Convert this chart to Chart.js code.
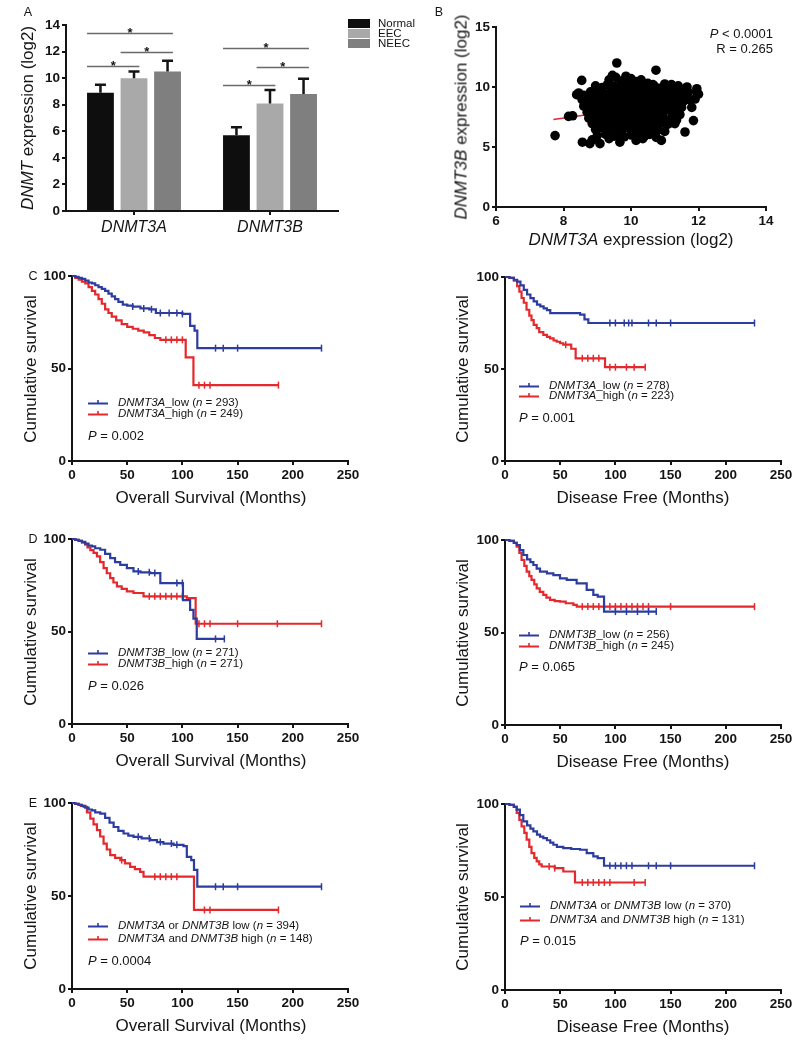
<!DOCTYPE html>
<html>
<head>
<meta charset="utf-8">
<script src="https://cdn.jsdelivr.net/npm/chart.js@4.4.1/dist/chart.umd.min.js"></script>
<style>
  body { margin:0; width:800px; height:1040px; position:relative; overflow:hidden; background:#fff;
         font-family:"Liberation Sans", Arial, Helvetica, sans-serif; color:#141414; }
  canvas { position:absolute; }
  .t { position:absolute; white-space:nowrap; line-height:1; }
  .sw { position:absolute; }
</style>
</head>
<body>
<script>
// ---------- panel A: mean expression (log2) ----------
const genes = ["DNMT3A", "DNMT3B"];
const groups = ["Normal", "EEC", "NEEC"];
const normalMean = [8.9, 5.7];
const eecMean = [10.0, 8.1];
const neecMean = [10.5, 8.8];
const normalSd = [0.6, 0.6];
const eecSd = [0.5, 1.0];
const neecSd = [0.8, 1.15];
// significance brackets: gene index, bar from, bar to, height
const sigGene = [0, 0, 0, 1, 1, 1];
const sigFrom = [0, 1, 0, 0, 1, 0];
const sigTo = [2, 2, 1, 2, 2, 1];
const sigY = [13.4, 12.0, 10.9, 12.3, 10.85, 9.5];

// ---------- panel B: DNMT3A vs DNMT3B ----------
const scatterPts = [
  [9.35,10.6],[9.55,10.8],[9.7,10.5],[9.85,10.9],[10.0,10.7],[10.15,10.45],[10.3,10.6],[10.5,10.3],[10.65,10.2],[11.0,10.25],[11.2,10.2],[11.4,10.1],
  [8.95,10.1],[9.15,9.95],[9.3,10.2],[9.5,10.05],[9.65,9.9],[9.8,10.25],[9.95,10.0],[10.1,10.15],[10.25,9.9],[10.4,10.1],[10.55,9.85],[10.7,10.05],[10.85,9.9],[11.0,9.8],[11.15,10.0],[11.3,9.9],[11.5,9.75],
  [8.45,9.5],[8.6,9.3],[8.8,9.6],[8.95,9.45],[9.1,9.55],[9.25,9.4],[9.4,9.6],[9.55,9.35],[9.7,9.5],[9.85,9.6],[10.0,9.4],[10.15,9.55],[10.3,9.35],[10.45,9.6],[10.6,9.45],[10.75,9.5],[10.9,9.35],[11.05,9.55],[11.2,9.4],[11.35,9.5],[11.55,9.3],[11.7,9.55],
  [8.55,8.95],[8.7,8.8],[8.85,9.05],[9.0,8.9],[9.15,9.1],[9.3,8.85],[9.45,9.0],[9.6,8.9],[9.75,9.1],[9.9,8.85],[10.05,9.05],[10.2,8.9],[10.35,9.1],[10.5,8.85],[10.65,9.0],[10.8,9.1],[10.95,8.9],[11.1,9.05],[11.25,8.85],[11.4,9.0],[11.55,8.8],
  [8.6,8.4],[8.75,8.55],[8.9,8.35],[9.05,8.6],[9.2,8.45],[9.35,8.55],[9.5,8.35],[9.65,8.5],[9.8,8.6],[9.95,8.4],[10.1,8.55],[10.25,8.35],[10.4,8.5],[10.55,8.6],[10.7,8.4],[10.85,8.55],[11.0,8.4],[11.15,8.6],[11.3,8.45],[11.5,8.3],
  [8.7,7.9],[8.85,8.1],[9.0,7.95],[9.15,8.05],[9.3,7.85],[9.45,8.1],[9.6,7.9],[9.75,8.0],[9.9,8.15],[10.05,7.9],[10.2,8.05],[10.35,7.85],[10.5,8.1],[10.65,7.95],[10.8,8.0],[10.95,7.85],[11.1,8.1],[11.3,7.9],[11.45,7.7],
  [8.75,7.4],[8.9,7.55],[9.05,7.35],[9.2,7.6],[9.35,7.45],[9.5,7.5],[9.65,7.35],[9.8,7.6],[9.95,7.4],[10.1,7.55],[10.25,7.3],[10.4,7.5],[10.55,7.6],[10.7,7.35],[10.85,7.5],[11.0,7.3],[11.2,7.45],[11.35,7.25],
  [8.85,6.95],[9.0,7.1],[9.15,6.85],[9.3,7.05],[9.45,6.9],[9.6,7.0],[9.75,6.85],[9.9,7.1],[10.05,6.95],[10.2,6.8],[10.35,7.05],[10.5,6.9],[10.65,7.0],[10.8,6.85],[10.95,7.05],[11.1,6.9],[11.3,6.95],
  [8.95,6.45],[9.15,6.6],[9.3,6.4],[9.45,6.55],[9.6,6.35],[9.75,6.5],[9.9,6.6],[10.05,6.4],[10.2,6.5],[10.35,6.3],[10.5,6.45],[10.65,6.55],[10.8,6.4],[11.0,6.3],
  [9.0,5.95],[9.25,6.05],[9.5,5.9],[9.65,6.1],[9.8,5.85],[10.0,6.0],[10.2,6.1],[10.4,5.9],[10.55,6.05],[10.75,5.8],
  [8.85,5.6],[9.35,5.7],[10.15,5.55],[10.35,5.7],
  [7.75,5.95],[8.15,7.55],[8.27,7.6],[8.54,10.55],[8.39,9.36],[9.58,12.0],[10.74,11.4],[9.45,10.97],[8.56,5.4],[8.78,5.28],[9.08,5.28],
  [9.67,5.4],[10.9,5.55],[11.6,6.25],[11.66,10.0],[11.95,9.86],[11.85,7.2],[11.75,8.9],[12.0,9.4],[11.9,9.0],[11.95,9.6],[11.8,8.3]
];
const regX = [7.7, 12.0];
const regY = [7.3, 9.0];

// ---------- panels C-E: Kaplan-Meier (months, % surviving) ----------
const cOsLowT = [0,3,6,9,12,15,18,21,24,27,30,33,36,39,42,46,50,55,62,70,76,100,107,111,113.5,226];
const cOsLowS = [100,99.5,99,98.5,97.5,96.5,96,95,94,93,92,90.5,89,87.5,86,84.5,84,83.5,82.5,82,80,79.5,73,70.5,61,61];
const cOsLowC = [55,65,72,80,88,95,100,130,137,150,226];
const cOsHighT = [0,3,6,9,12,15,18,21,24,27,30,33,36,40,45,50,55,60,65,70,75,80,103,110,187];
const cOsHighS = [100,99,98,97,96,94,92,90,87.5,85,82,80,78,76,74,72.5,71.5,70.5,69.5,68,66.5,65.5,56,41,41];
const cOsHighC = [85,90,95,100,115,120,125,187];

const cDfsLowT = [0,4,8,11,14,17,20,23,26,29,32,35,38,41,68,72,75.5,226];
const cDfsLowS = [100,99.5,98.5,97.5,95.5,93,90.5,88.5,86.8,85,84,83,82,80.4,79.5,77,75,75];
const cDfsLowC = [95,100,108,112,115,130,137,150,226];
const cDfsHighT = [0,4,8,11,13,15,17,19.5,22,24,26,28.7,31,34.7,38,40.8,44,46.8,50,52.8,60,64,90.6,127];
const cDfsHighS = [100,99.5,98,95,92,88.6,86,82.2,79,76.6,74,72.2,70,68.6,67.5,66.6,65.5,64.8,64,63.2,61,55.8,51,51];
const cDfsHighC = [55,70,75,80,85,95,100,110,117,127];

const dOsLowT = [0,3,6,9,12,15,18,21,25.6,30,34.6,39,43.7,49.7,55.7,62,70.8,80,100.5,107,110,113,138];
const dOsLowS = [100,99.5,99,98.5,97.5,96.5,96,95,94.2,92,89.7,87.5,86,84.3,82.5,82,81.6,76.2,67,61.7,57,46,46];
const dOsLowC = [60,70,75,95,100,130,138];
const dOsHighT = [0,3,6,9,12,14,16.6,19.5,22.6,25.5,28.6,31.5,34.6,37.5,40.7,45,49.7,55.7,64.8,104,112,226];
const dOsHighS = [100,99.5,99,98,97,95.5,94,92.5,90.6,87.5,84.3,81.5,78.9,76.5,74.4,73,71.7,70.8,69,68,54.2,54.2];
const dOsHighC = [70,75,80,85,90,95,100,115,120,125,150,186,226];

const dDfsLowT = [0,4,8,10.6,13.5,16.6,20,23,25.7,28.7,31.7,38,43.8,49.8,55.9,64.9,74,80,84,89.7,137];
const dDfsLowS = [100,99.5,98.5,97.3,94.5,91.9,89.5,88,86.5,84.5,82.9,82,81,79.3,78.4,76.6,73,70.3,69.4,61.3,61.3];
const dDfsLowC = [100,110,120,130,137];
const dDfsHighT = [0,4,8,10.6,13,15,17.5,19.6,22,24,26.5,28.7,31.5,34.7,37.5,40.8,45,49.8,55,61.9,65,226];
const dDfsHighS = [100,99.5,98.5,96.4,93,89.2,86,82.9,80.5,78.4,76,73.9,72,70.3,68.8,67.6,67,66.7,65.8,64.9,64,64];
const dDfsHighC = [70,75,80,85,90,95,100,105,110,115,120,125,130,150,226];

const eOsLowT = [0,3,6,9,12,15,18,21,25.6,30,34,37.7,42,46.7,51,55.7,63,70.8,77,82.8,92,101,104,108,110.5,113.5,226];
const eOsLowS = [100,99.5,99,98.5,97.5,96.5,96,95,94.3,92,89.5,87.1,85,83.6,82.5,81.8,81,80,79,78.2,77.5,76.8,71,69.3,64,55,55];
const eOsLowC = [60,70,80,90,95,130,137,150,226];
const eOsHighT = [0,3,6,8,10.5,13.5,16.6,19.5,22.6,25.5,28.6,31.5,34.6,39,43.7,48,52.7,57,61.7,64.8,110.5,187];
const eOsHighS = [100,99.5,99,98.5,97.9,95,91.6,88.5,85.4,82,78.2,75,72,70.5,69.3,67.5,65.7,64.5,63,60.4,42.5,42.5];
const eOsHighC = [45,75,80,85,90,95,120,125,187];

const eDfsLowT = [0,4,8,10.6,13.5,16.6,20,23,25.7,29,31.7,34.7,38,41,43.8,47,52.8,60,68,74,80,84,89.7,226];
const eDfsLowS = [100,99.5,98.5,97,94,90.7,88.5,86.8,85.3,83.5,82.5,81.7,80.5,79.2,78.1,77,76.3,75.8,75.4,73.6,71.8,70.9,66.8,66.8];
const eDfsLowC = [95,100,105,110,115,130,137,150,226];
const eDfsHighT = [0,4,8,10.6,13,15,17.5,19.6,22,24,26.5,28.7,31,33.2,45,52.8,63.4,127];
const eDfsHighS = [100,99.5,98.5,95.2,91.5,88,84.5,80.8,77,73.6,71,69.1,67.5,66.4,65.5,63.7,57.8,57.8];
const eDfsHighC = [40,45,70,75,80,85,90,95,117,127];

const kmN = [[293, 249], [278, 223], [271, 271], [256, 245], [394, 148], [370, 131]];
const kmP = ["0.002", "0.001", "0.026", "0.065", "0.0004", "0.015"];

// ---------- styling ----------
const FONT = '"Liberation Sans", Arial, Helvetica, sans-serif';
const INK = "#141414";
const BLUE = "#2d3c9f";
const RED = "#e4282c";
const barColors = ["#0e0e0e", "#a9a9a9", "#7f7f7f"];

function linAxis(min, max, step, fit, horizontal) {
  return {
    type: "linear", min, max,
    ticks: { stepSize: step, color: INK, padding: 2, maxRotation: 0,
             font: { family: FONT, size: 13.5, weight: "bold" } },
    grid: { drawOnChartArea: false, drawTicks: true, tickLength: 4, color: INK, lineWidth: 2 },
    border: { display: true, color: INK, width: 2 },
    afterFit(s) { if (horizontal) s.height = fit; else s.width = fit; }
  };
}

// places a canvas so that the chart area lands on the given page box
function placeChart(area, yW, xH, cfg, plugins) {
  const padT = 12, padR = 26;
  const W = (area.r - area.l) + yW + padR;
  const H = (area.b - area.t) + padT + xH;
  const cv = document.createElement("canvas");
  cv.width = W; cv.height = H;
  cv.style.width = W + "px"; cv.style.height = H + "px";
  cv.style.left = (area.l - yW) + "px"; cv.style.top = (area.t - padT) + "px";
  document.body.appendChild(cv);
  cfg.options.responsive = false;
  cfg.options.maintainAspectRatio = false;
  cfg.options.animation = false;
  cfg.options.events = [];
  cfg.options.devicePixelRatio = 1;
  cfg.options.layout = { padding: { left: 0, top: padT, right: padR, bottom: 0 } };
  cfg.options.plugins = { legend: { display: false }, tooltip: { enabled: false } };
  cfg.plugins = plugins || [];
  const chart = new Chart(cv, cfg);
  const ca = chart.chartArea;
  cv.style.left = (area.l - ca.left) + "px";
  cv.style.top = (area.t - ca.top) + "px";
  return chart;
}

function text(html, x, y, size, anchor, extra) {
  const d = document.createElement("div");
  d.className = "t";
  d.innerHTML = html;
  d.style.left = x + "px";
  d.style.top = y + "px";
  d.style.fontSize = size + "px";
  d.style.transform = {
    l: "translate(0,-50%)", c: "translate(-50%,-50%)", r: "translate(-100%,-50%)",
    v: "translate(-50%,-50%) rotate(-90deg)"
  }[anchor];
  if (extra) Object.assign(d.style, extra);
  document.body.appendChild(d);
}

// ---------- A ----------
const means = [normalMean, eecMean, neecMean];
const sds = [normalSd, eecSd, neecSd];

const barExtras = {
  id: "barExtras",
  afterDatasetsDraw(chart) {
    const ctx = chart.ctx, ys = chart.scales.y;
    ctx.save();
    ctx.strokeStyle = INK; ctx.lineWidth = 2.5;
    means.forEach((m, d) => {
      chart.getDatasetMeta(d).data.forEach((bar, i) => {
        const top = ys.getPixelForValue(m[i] + sds[d][i]);
        ctx.beginPath();
        ctx.moveTo(bar.x, bar.y); ctx.lineTo(bar.x, top);
        ctx.moveTo(bar.x - 5.5, top); ctx.lineTo(bar.x + 5.5, top);
        ctx.stroke();
      });
    });
    ctx.strokeStyle = "#6a6a6a"; ctx.lineWidth = 1.5;
    ctx.fillStyle = INK; ctx.textAlign = "center"; ctx.textBaseline = "alphabetic";
    ctx.font = "bold 13px " + FONT;
    sigGene.forEach((g, k) => {
      const a = chart.getDatasetMeta(sigFrom[k]).data[g];
      const b = chart.getDatasetMeta(sigTo[k]).data[g];
      const y = Math.round(ys.getPixelForValue(sigY[k])) + 0.5;
      const x1 = a.x - a.width / 2, x2 = b.x + b.width * 0.2;
      ctx.beginPath(); ctx.moveTo(x1, y); ctx.lineTo(x2, y); ctx.stroke();
      ctx.fillText("*", (x1 + x2) / 2, y + 3);
    });
    ctx.restore();
  }
};

placeChart({ l: 66, r: 338, t: 25, b: 211 }, 40, 30, {
  type: "bar",
  data: {
    labels: genes,
    datasets: groups.map((g, d) => ({
      label: g, data: means[d], backgroundColor: barColors[d], borderWidth: 0,
      barPercentage: 0.8, categoryPercentage: 0.74
    }))
  },
  options: {
    scales: {
      x: {
        type: "category", offset: true,
        ticks: { color: INK, padding: 3, font: { family: FONT, size: 16, style: "italic" } },
        grid: { offset: false, drawOnChartArea: false, drawTicks: true, tickLength: 4, color: INK, lineWidth: 2 },
        border: { display: true, color: INK, width: 2 },
        afterFit(s) { s.height = 30; }
      },
      y: linAxis(0, 14, 2, 40, false)
    }
  }
}, [barExtras]);

text("A", 28, 12, 12.5, "c");
text("<i>DNMT</i> expression (log2)", 27, 118, 17, "v");
groups.forEach((g, d) => {
  const sw = document.createElement("div");
  sw.className = "sw";
  Object.assign(sw.style, { left: "348px", top: (19 + d * 10) + "px", width: "22px", height: "9px", background: barColors[d] });
  document.body.appendChild(sw);
  text(g, 378, 23.5 + d * 10, 11.5, "l");
});

// ---------- B ----------
placeChart({ l: 496, r: 766, t: 27, b: 207 }, 40, 30, {
  type: "scatter",
  data: {
    datasets: [
      { data: scatterPts.map(p => ({ x: p[0], y: p[1] })), pointRadius: 4.8, pointBackgroundColor: "#000",
        pointBorderWidth: 0, clip: 6 },
      { type: "line", data: regX.map((x, i) => ({ x, y: regY[i] })), borderColor: RED, borderWidth: 1.5,
        pointRadius: 0, fill: false }
    ]
  },
  options: { scales: { x: linAxis(6, 14, 2, 30, true), y: linAxis(0, 15, 5, 40, false) } }
});
text("B", 439, 12, 12.5, "c");
text("<i>DNMT3B</i> expression (log2)", 461, 117, 17, "v");
text("<i>DNMT3A</i> expression (log2)", 631, 239, 17, "c");
text("<i>P</i> &lt; 0.0001", 773, 33, 13, "r");
text("R = 0.265", 773, 48, 13, "r");

// ---------- C-E ----------
function survAt(T, S, t) {
  let v = S[0];
  for (let i = 0; i < T.length; i++) if (T[i] <= t) v = S[i];
  return v;
}
function kmSets(T, S, C, color) {
  return [
    { type: "line", data: T.map((t, i) => ({ x: t, y: S[i] })), stepped: true, borderColor: color,
      borderWidth: 2.2, pointRadius: 0, fill: false, clip: 6 },
    { type: "scatter", data: C.map(t => ({ x: t, y: survAt(T, S, t) })), pointStyle: "line", rotation: 90,
      pointRotation: 90, pointRadius: 3.5, borderColor: color, pointBorderColor: color,
      pointBorderWidth: 1.5, borderWidth: 1.5, clip: 6 }
  ];
}

const kmCurves = [
  [cOsLowT, cOsLowS, cOsLowC, cOsHighT, cOsHighS, cOsHighC],
  [cDfsLowT, cDfsLowS, cDfsLowC, cDfsHighT, cDfsHighS, cDfsHighC],
  [dOsLowT, dOsLowS, dOsLowC, dOsHighT, dOsHighS, dOsHighC],
  [dDfsLowT, dDfsLowS, dDfsLowC, dDfsHighT, dDfsHighS, dDfsHighC],
  [eOsLowT, eOsLowS, eOsLowC, eOsHighT, eOsHighS, eOsHighC],
  [eDfsLowT, eDfsLowS, eDfsLowC, eDfsHighT, eDfsHighS, eDfsHighC]
];
const kmNames = [
  ["<i>DNMT3A</i>_low", "<i>DNMT3A</i>_high"],
  ["<i>DNMT3A</i>_low", "<i>DNMT3A</i>_high"],
  ["<i>DNMT3B</i>_low", "<i>DNMT3B</i>_high"],
  ["<i>DNMT3B</i>_low", "<i>DNMT3B</i>_high"],
  ["<i>DNMT3A</i> or <i>DNMT3B</i> low", "<i>DNMT3A</i> and <i>DNMT3B</i> high"],
  ["<i>DNMT3A</i> or <i>DNMT3B</i> low", "<i>DNMT3A</i> and <i>DNMT3B</i> high"]
];
// layout of each survival panel on the page
const kmLayout = [
  { area: { l: 72, r: 348, t: 276, b: 461 }, leg: [88, 118, 403, 414, 435], xt: "Overall Survival (Months)", letter: "C" },
  { area: { l: 505, r: 781, t: 277, b: 461 }, leg: [519, 549, 386, 396, 417], xt: "Disease Free (Months)" },
  { area: { l: 72, r: 348, t: 539, b: 724 }, leg: [88, 118, 653, 664, 685], xt: "Overall Survival (Months)", letter: "D" },
  { area: { l: 505, r: 781, t: 540, b: 725 }, leg: [519, 549, 635, 646, 666], xt: "Disease Free (Months)" },
  { area: { l: 72, r: 348, t: 803, b: 989 }, leg: [88, 118, 926, 939, 960], xt: "Overall Survival (Months)", letter: "E" },
  { area: { l: 505, r: 781, t: 804, b: 990 }, leg: [520, 550, 906, 920, 940], xt: "Disease Free (Months)" }
];

function legendMark(x, y, color) {
  const s = document.createElementNS("http://www.w3.org/2000/svg", "svg");
  s.setAttribute("width", "20"); s.setAttribute("height", "8");
  s.setAttribute("class", "sw");
  s.style.left = x + "px"; s.style.top = (y - 4) + "px";
  s.innerHTML = `<line x1="0" y1="4.5" x2="20" y2="4.5" stroke="${color}" stroke-width="2"/>` +
                `<line x1="10" y1="1" x2="10" y2="4.5" stroke="${color}" stroke-width="1.6"/>`;
  document.body.appendChild(s);
}

kmLayout.forEach((p, k) => {
  const [lT, lS, lC, hT, hS, hC] = kmCurves[k];
  placeChart(p.area, 40, 30, {
    type: "line",
    data: { datasets: [...kmSets(lT, lS, lC, BLUE), ...kmSets(hT, hS, hC, RED)] },
    options: { scales: { x: linAxis(0, 250, 50, 30, true), y: linAxis(0, 100, 50, 40, false) } }
  });
  const left = p.area.l < 400;
  const midY = (p.area.t + p.area.b) / 2;
  text("Cumulative survival", left ? 30 : 462, midY, 17, "v");
  text(p.xt, left ? 211 : 643, p.area.b + 36, 17, "c");
  if (p.letter) text(p.letter, 33, p.area.t, 12.5, "c");
  const [mx, tx, y1, y2, py] = p.leg;
  legendMark(mx, y1, BLUE);
  legendMark(mx, y2, RED);
  text(`${kmNames[k][0]} (<i>n</i> = ${kmN[k][0]})`, tx, y1, 11.5, "l");
  text(`${kmNames[k][1]} (<i>n</i> = ${kmN[k][1]})`, tx, y2, 11.5, "l");
  text(`<i>P</i> = ${kmP[k]}`, mx, py, 13, "l");
});
</script>
</body>
</html>
